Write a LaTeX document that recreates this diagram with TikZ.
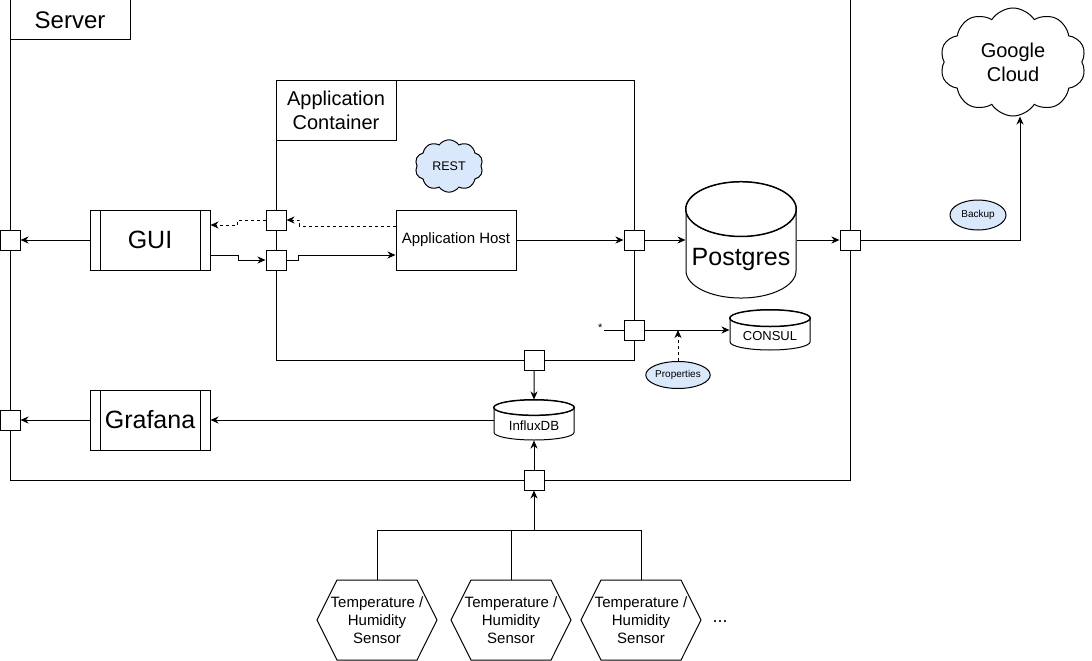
\documentclass[tikz,border=0pt]{standalone}
\usepackage{fontspec}
\setmainfont{Liberation Sans}
\usetikzlibrary{shapes.geometric,shapes.symbols,arrows.meta,calc}

\definecolor{noteblue}{HTML}{DAE8FC}

% front rim of a database cylinder
\newcommand\dbrim[1]{\draw let \p1=($(#1.before top)!0.5!(#1.after top)$), \p2=(#1.top), \p3=(#1.before top) in (\p1) ellipse [x radius={abs(\x3-\x1)}, y radius={abs(\y2-\y1)}];}

\tikzset{
  frame/.style={draw, inner sep=0pt},
  tag/.style={draw, fill=white, align=center},
  port/.style={draw, fill=white, minimum size=20, inner sep=0pt},
  proc/.style={draw, fill=white, minimum width=120, minimum height=60,
    font=\fontsize{25}{28}\selectfont,
    path picture={
      \draw ([xshift=10]path picture bounding box.north west) -- ([xshift=10]path picture bounding box.south west);
      \draw ([xshift=-10]path picture bounding box.north east) -- ([xshift=-10]path picture bounding box.south east);}},
  db/.style={draw, fill=white, cylinder, shape border rotate=90, inner sep=0pt, anchor=shape center},
  note/.style={draw, ellipse, fill=noteblue, inner sep=0pt, font=\fontsize{10}{12}\selectfont},
  sensor/.style={draw, fill=white, signal, signal to=west and east, signal pointer angle=127,
    minimum width=120, minimum height=80, inner xsep=-10pt, inner ysep=0pt, align=center,
    font=\fontsize{15}{18}\selectfont}
}

\begin{document}
\begin{tikzpicture}[x=1pt, y=-1pt, line width=1pt, >={Stealth[length=8pt,width=7pt,inset=2.5pt]}]
\useasboundingbox (0,0) rectangle (1092,661);

% server and container frames
\node[frame, minimum width=840, minimum height=480] (srv) at (430,240) {};
\node[tag, minimum width=120, minimum height=40, font=\fontsize{24}{28}\selectfont] (srvtag) at (70,20) {Server};
\node[frame, minimum width=358, minimum height=280] (app) at (455,220) {};
\node[tag, minimum width=120, minimum height=60, font=\fontsize{20}{24}\selectfont] (apptag) at (336,110) {Application\\Container};

% components
\node[proc] (gui) at (150,240) {GUI};
\node[proc] (graf) at (150,420) {Grafana};
\node[draw, fill=white, minimum width=120, minimum height=60, font=\fontsize{15}{18}\selectfont] (host) at (456,240) {Application Host};
\node[draw, fill=noteblue, cloud, cloud puffs=10, cloud puff arc=110, minimum width=68, minimum height=34, inner sep=0pt, font=\fontsize{12.5}{14}\selectfont] (rest) at (449,166) {REST};
\node[db, minimum width=110, minimum height=110, aspect=0.55, text height=29pt, font=\fontsize{25}{28}\selectfont] (pg) at (741,240) {Postgres};
\node[db, minimum width=80, minimum height=40, aspect=0.3, text height=13pt, font=\fontsize{13}{16}\selectfont] (consul) at (770,330) {CONSUL};
\node[db, minimum width=80, minimum height=40, aspect=0.3, text height=13pt, font=\fontsize{13.3}{16}\selectfont] (influx) at (534,420) {InfluxDB};
\dbrim{pg}
\dbrim{consul}
\dbrim{influx}
\node[note, minimum width=58, minimum height=27] (prop) at (678,375) {Properties};
\node[note, minimum width=56, minimum height=30] (backup) at (978,215) {Backup};
\node[draw, fill=white, cloud, cloud puffs=10, cloud puff arc=115, minimum width=146, minimum height=108, inner sep=0pt, align=center, font=\fontsize{20}{24}\selectfont] (gcloud) at (1013,62) {Google\\Cloud};

% ports
\node[port] (psl) at (10,240) {};
\node[port] (pgl) at (10,420) {};
\node[port] (pa1) at (276,220) {};
\node[port] (pa2) at (276,260) {};
\node[port] (par) at (634,240) {};
\node[port] (pc) at (634,330) {};
\node[port] (pab) at (534,360) {};
\node[port] (psr) at (850,240) {};
\node[port] (psb) at (534,480) {};

% sensors
\node[sensor] (s1) at (377,620) {Temperature /\\Humidity\\Sensor};
\node[sensor] (s2) at (511,620) {Temperature /\\Humidity\\Sensor};
\node[sensor] (s3) at (641,620) {Temperature /\\Humidity\\Sensor};
\node[font=\fontsize{18}{20}\selectfont] (more) at (720,622) {...};
\node[anchor=east, inner sep=1pt, font=\fontsize{11}{13}\selectfont] (star) at (604,328) {*};
\coordinate (bus) at (534,530);

% connectors
\draw[->] (gui.west) -- (psl.east);
\draw[->] (graf.west) -- (pgl.east);
\draw[->] (influx.west |- graf) -- (graf.east);
\draw[->] (pab.south) -- (influx.north);
\draw[->] (psb.north) -- (influx.south);
\draw[->, dashed] ([yshift=14]host.west) -- ++(-96,0) |- (pa1.east);
\draw[->, dashed] (pa1.west) -- ++(-28,0) |- ([yshift=15]gui.east);
\draw[->] ([yshift=-15]gui.east) -- ++(28,0) |- (pa2.west);
\draw[->] (pa2.east) -- ++(12,0) |- ([yshift=-15]host.west);
\draw[->] (host.east) -- (par.west);
\draw[->] (par.east) -- (pg.west |- par);
\draw[->] (pg.east |- psr) -- (psr.west);
\draw[->] (psr.east) -| ([xshift=7]gcloud.south);
\draw (star.east |- pc) -- (pc.west);
\draw[->] (pc.east) -- (consul.west |- pc);
\draw[->, dashed] (prop.north) -- (prop.north |- pc);
\draw (s1.north) |- (bus);
\draw (s3.north) |- (bus);
\draw (s2.north) -- (s2.north |- bus);
\draw[->] (bus) -- (psb.south);
\end{tikzpicture}
\end{document}
